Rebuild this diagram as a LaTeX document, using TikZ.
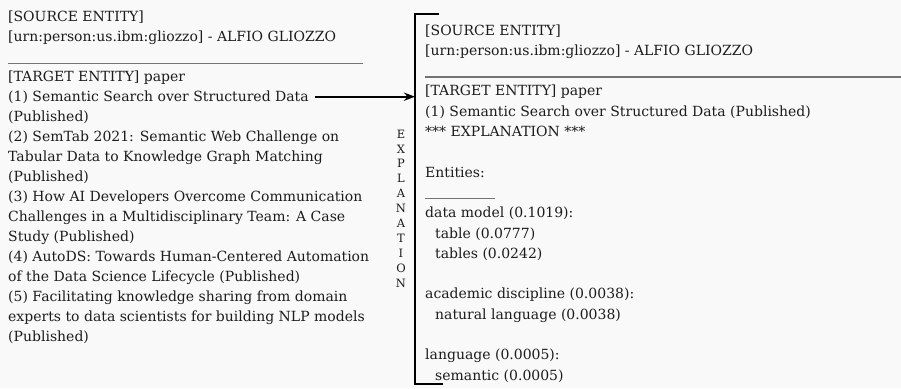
\documentclass[tikz,border=0pt]{standalone}
\usepackage{fontspec}
\setmainfont{DejaVu Serif}
\usetikzlibrary{positioning,arrows.meta,calc}

\definecolor{pagebg}{RGB}{249,249,249}
\definecolor{inkgray}{RGB}{28,28,28}
\newcommand{\entryrule}[1]{\textcolor{black!55}{\rule[-2pt]{#1}{1.2pt}}}

\begin{document}
\begin{tikzpicture}[
    x=1pt, y=-1pt,
    >=Stealth,
    every node/.style={text=inkgray},
    % multi-line nodes sit on the baseline of their last line
    entrytext/.style={inner sep=0pt, align=left, anchor=base west,
        font=\fontsize{14}{20}\selectfont},
    cardtext/.style={entrytext, font=\fontsize{14}{20.3}\selectfont},
    sidelabel/.style={inner sep=0pt, align=center, font=\fontsize{11.5}{14.9}\selectfont},
    bracketline/.style={line width=1.8pt, black},
    flowarrow/.style={->, line width=1.8pt, black},
]
\fill[pagebg] (0,0) rectangle (901,388);
\useasboundingbox (0,0) rectangle (901,388);

% ---- Left: source and target listing ----
\node[entrytext] (lsource) at (8,61.7) {[SOURCE ENTITY]\\{}[urn:person:us.ibm:gliozzo] - ALFIO GLIOZZO\\\entryrule{355pt}};
\node[entrytext] (ltarget) at ([yshift=-20pt]lsource.base west) {[TARGET ENTITY] paper};
\node[entrytext] (lpaper1) at ([yshift=-20pt]ltarget.base west) {(1) Semantic Search over Structured Data};
\node[entrytext] (lpapers) at ([yshift=-240pt]lpaper1.base west) {(Published)\\
(2) SemTab 2021: Semantic Web Challenge on\\
Tabular Data to Knowledge Graph Matching\\
(Published)\\
(3) How AI Developers Overcome Communication\\
Challenges in a Multidisciplinary Team: A Case\\
Study (Published)\\
(4) AutoDS: Towards Human-Centered Automation\\
of the Data Science Lifecycle (Published)\\
(5) Facilitating knowledge sharing from domain\\
experts to data scientists for building NLP models\\
(Published)};

% ---- Bracket with the vertical label ----
\coordinate (brtop) at (415,14);
\coordinate (brbot) at (415,384);
\draw[bracketline] ([xshift=24pt]brtop) -- (brtop) -- (brbot) -- ([xshift=28pt]brbot);
\node[sidelabel] (explabel) at (401,208.5) {E\\X\\P\\L\\A\\N\\A\\T\\I\\O\\N};

\coordinate (arrowstart) at ([xshift=6pt,yshift=5pt]lpaper1.base east);
\draw[flowarrow] (arrowstart) -- (arrowstart -| brtop);

% ---- Right: explained pair ----
\node[cardtext] (rcard) at (425,380.1) {[SOURCE ENTITY]\\
{}[urn:person:us.ibm:gliozzo] - ALFIO GLIOZZO\\
\entryrule{480pt}\\
{}[TARGET ENTITY] paper\\
(1) Semantic Search over Structured Data (Published)\\
*** EXPLANATION ***\\
\strut\\
Entities:\\
\entryrule{70pt}\\
data model (0.1019):\\
\hspace*{10pt}table (0.0777)\\
\hspace*{10pt}tables (0.0242)\\
\strut\\
academic discipline (0.0038):\\
\hspace*{10pt}natural language (0.0038)\\
\strut\\
language (0.0005):\\
\hspace*{10pt}semantic (0.0005)};

\end{tikzpicture}
\end{document}
